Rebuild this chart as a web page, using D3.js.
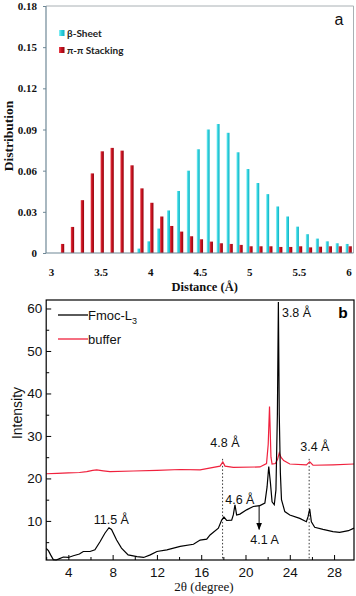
<!DOCTYPE html>
<html><head><meta charset="utf-8">
<script src="https://cdn.jsdelivr.net/npm/d3@7/dist/d3.min.js"></script>
<style>html,body{margin:0;padding:0;background:#fff;}svg{display:block;}</style>
</head><body>
<script>
// ---- Panel a data ----
const distances = [3.1,3.2,3.3,3.4,3.5,3.6,3.7,3.8,3.9,4.0,4.1,4.2,4.3,4.4,4.5,4.6,4.7,4.8,4.9,5.0,5.1,5.2,5.3,5.4,5.5,5.6,5.7,5.8,5.9,6.0];
const betaSheet = [0,0,0,0,0,0,0,0,0.0032,0.0085,0.0178,0.031,0.0452,0.060,0.0756,0.090,0.0940,0.0876,0.0734,0.0612,0.051,0.0429,0.0339,0.0266,0.0192,0.0137,0.0105,0.0085,0.0071,0.0066];
const piStacking = [0.0066,0.019,0.0385,0.058,0.0741,0.0766,0.0746,0.0639,0.0471,0.0366,0.0266,0.0197,0.0156,0.0122,0.010,0.0083,0.0071,0.0066,0.0059,0.0049,0.0049,0.0049,0.0044,0.0044,0.0049,0.0041,0.0046,0.0049,0.0049,0.0049];
const yTicksA = [0,0.03,0.06,0.09,0.12,0.15,0.18];
const xTicksA = [3,3.5,4,4.5,5,5.5,6];
const seriesA = ["β-Sheet","π-π Stacking"];

// ---- Panel b data ----
const thetaL3 = [2.0,2.2,2.4,2.64,2.9,3.1,3.55,4.0,4.45,5.0,5.35,5.96,6.4,6.86,7.3,7.67,7.9,8.36,8.8,9.4,10.2,10.8,11.4,12.0,12.9,14.1,15.3,15.9,16.5,16.8,17.55,17.85,18.05,18.3,18.75,18.9,19.05,19.2,19.5,20.1,20.7,21.3,21.75,21.95,22.1,22.25,22.4,22.6,22.75,22.88,22.97,23.05,23.15,23.25,23.55,24.0,24.9,25.5,25.65,25.8,25.95,26.25,27.0,27.9,28.5,29.3,29.8];
const intL3 = [3.5,3.0,2.0,0.9,0.8,1.0,1.5,1.4,1.8,2.2,2.8,2.8,3.2,5.1,7.1,8.4,8.0,5.5,3.6,2.0,1.6,1.4,2.0,2.8,3.2,4.0,4.5,5.5,5.7,6.7,8.3,10.2,10.9,10.1,10.2,11.4,13.8,11.4,11.6,12.6,13.4,13.6,14.2,18.0,22.8,19.0,14.5,13.8,17.3,35.0,61.5,35.0,21.3,15.0,12.2,11.4,10.6,9.8,11.0,12.8,9.8,8.5,8.0,7.5,7.3,7.7,8.3];
const thetaBuf = [2.0,3.0,4.0,5.0,5.66,6.2,6.56,7.16,7.76,9.87,12.0,14.1,15.9,17.7,17.95,18.15,18.9,21.3,21.9,22.05,22.17,22.3,22.4,22.7,22.9,23.05,23.2,23.45,24.0,25.5,25.8,26.1,27.9,29.8];
const intBuf = [21.1,21.2,21.3,21.4,21.6,21.9,22.0,21.8,21.6,21.75,21.9,22.1,22.0,22.9,23.9,22.9,22.6,22.7,23.5,28.0,36.9,25.0,23.4,23.5,24.5,26.0,25.0,24.2,23.4,23.2,23.9,23.1,23.2,23.4];
const xTicksB = [4,8,12,16,20,24,28];
const xMinorB = [2,6,10,14,18,22,26];
const yTicksB = [10,20,30,40,50,60];
const yMinorB = [5,15,25,35,45,55];
const seriesB = ["Fmoc-L","buffer"];
const peakLabels = [
  {t:"3.8 Å", x:24.61, y:58.0},
  {t:"4.8 Å", x:18.14, y:27.4},
  {t:"3.4 Å", x:26.26, y:26.5},
  {t:"4.6 Å", x:19.49, y:14.0},
  {t:"4.1 A", x:21.72, y:4.57},
  {t:"11.5 Å", x:7.88, y:9.2}
];
const dottedAt = [17.93, 25.75];

const W = 356, H = 596;
const svg = d3.select("body").append("svg").attr("width", W).attr("height", H);

// ================= Panel a =================
const xA = d3.scaleLinear().domain([3,6]).range([51,348.5]);
const yA = d3.scaleLinear().domain([0,0.18]).range([253,6]);
const leftA = 46, rightA = 353.5;
const defs = svg.append("defs");
const gc = defs.append("linearGradient").attr("id","gCyan");
gc.append("stop").attr("offset","0%").attr("stop-color","#8af0f5");
gc.append("stop").attr("offset","45%").attr("stop-color","#2fd3e0");
gc.append("stop").attr("offset","100%").attr("stop-color","#15aebf");
const gr = defs.append("linearGradient").attr("id","gRed");
gr.append("stop").attr("offset","0%").attr("stop-color","#e8404a");
gr.append("stop").attr("offset","45%").attr("stop-color","#c8101e");
gr.append("stop").attr("offset","100%").attr("stop-color","#8e0712");

const gA = svg.append("g");
// top/right border
gA.append("path").attr("d",`M${leftA},${yA(0.18)}H${rightA}V${yA(0)}`).attr("fill","none").attr("stroke","#a9b0b4").attr("stroke-width",1);

// bars
gA.selectAll("rect.cy").data(distances.map((d,i)=>({d,v:betaSheet[i]})).filter(o=>o.v>0)).join("rect")
  .attr("x",o=>xA(o.d)-3).attr("width",3).attr("y",o=>yA(o.v)).attr("height",o=>yA(0)-yA(o.v)).attr("fill","url(#gCyan)");
gA.selectAll("rect.rd").data(distances.map((d,i)=>({d,v:piStacking[i]}))).join("rect")
  .attr("x",o=>xA(o.d)).attr("width",3.3).attr("y",o=>yA(o.v)).attr("height",o=>yA(0)-yA(o.v)).attr("fill","url(#gRed)");

// axes lines
const axColA = "#6f8896";
gA.append("line").attr("x1",leftA).attr("x2",leftA).attr("y1",yA(0.18)).attr("y2",yA(0)).attr("stroke",axColA).attr("stroke-width",1.2);
gA.append("line").attr("x1",leftA).attr("x2",rightA).attr("y1",yA(0)).attr("y2",yA(0)).attr("stroke",axColA).attr("stroke-width",1.2);

const yAxA = gA.append("g").attr("transform",`translate(${leftA},0)`)
  .call(d3.axisLeft(yA).tickValues(yTicksA).tickSize(3).tickPadding(6).tickFormat(d=>d===0?"0":d3.format(".2f")(d)));
yAxA.select(".domain").remove();
yAxA.selectAll("line").attr("stroke",axColA);
yAxA.selectAll("text").attr("font-family","'Liberation Serif','Times New Roman',serif").attr("font-weight","bold").attr("font-size","11px").attr("fill","#111");

const xAxA = gA.append("g").attr("transform",`translate(0,${yA(0)})`)
  .call(d3.axisBottom(xA).tickValues(xTicksA).tickSize(0).tickPadding(15).tickFormat(d=>String(d)));
xAxA.select(".domain").remove();
xAxA.selectAll("text").attr("font-family","'Liberation Serif','Times New Roman',serif").attr("font-weight","bold").attr("font-size","11px").attr("fill","#111");

gA.append("text").attr("transform","translate(13,136) rotate(-90)").attr("text-anchor","middle")
  .attr("font-family","'Liberation Serif','Times New Roman',serif").attr("font-weight","bold").attr("font-size","13.5px").attr("fill","#111").text("Distribution");
gA.append("text").attr("x",xA(4.55)).attr("y",291).attr("text-anchor","middle")
  .attr("font-family","'Liberation Serif','Times New Roman',serif").attr("font-weight","bold").attr("font-size","12.5px").attr("fill","#111").text("Distance (Å)");

// legend a
const legA = gA.append("g");
seriesA.forEach((s,i)=>{
  const ly = 33 + i*17;
  legA.append("rect").attr("x",59).attr("y",ly-3).attr("width",5.5).attr("height",6).attr("fill",i===0?"url(#gCyan)":"url(#gRed)");
  legA.append("text").attr("x",67).attr("y",ly+3.5).attr("font-family","Lato,'Open Sans',sans-serif").attr("font-weight","bold").attr("font-size","10px").attr("fill","#222").text(s);
});
gA.append("text").attr("x",339).attr("y",25).attr("text-anchor","middle").attr("font-family","'Liberation Sans',Arial,sans-serif").attr("font-size","16px").attr("fill","#111").text("a");

// ================= Panel b =================
const xB = d3.scaleLinear().domain([2,29.8]).range([46.2,354]);
const yB = d3.scaleLinear().domain([0.8,62]).range([560,300]);
const gB = svg.append("g");
const fontB = "'Liberation Sans',Arial,sans-serif";

// dotted lines
gB.selectAll("line.dot").data(dottedAt).join("line")
  .attr("x1",d=>xB(d)).attr("x2",d=>xB(d)).attr("y1",yB(24.6)).attr("y2",yB(0.8))
  .attr("stroke","#222").attr("stroke-width",0.9).attr("stroke-dasharray","1.5,2");

const line = d3.line().x(d=>xB(d[0])).y(d=>yB(d[1]));
gB.append("path").datum(thetaBuf.map((t,i)=>[t,intBuf[i]])).attr("d",line).attr("fill","none").attr("stroke","#f0213d").attr("stroke-width",1.2);
gB.append("path").datum(thetaL3.map((t,i)=>[t,intL3[i]])).attr("d",line).attr("fill","none").attr("stroke","#000").attr("stroke-width",1.2);

// frame
gB.append("rect").attr("x",xB(2)).attr("y",yB(62)).attr("width",xB(29.8)-xB(2)).attr("height",yB(0.8)-yB(62)).attr("fill","none").attr("stroke","#000").attr("stroke-width",1.2);

// axes
const yAxB = gB.append("g").attr("transform",`translate(${xB(2)},0)`)
  .call(d3.axisLeft(yB).tickValues(yTicksB).tickSize(-5).tickPadding(4).tickFormat(d3.format("d")));
yAxB.select(".domain").remove();
yAxB.selectAll("text").attr("font-family",fontB).attr("font-size","13.5px").attr("fill","#111");
const yMinB = gB.append("g").attr("transform",`translate(${xB(2)},0)`)
  .call(d3.axisLeft(yB).tickValues(yMinorB).tickSize(-3).tickFormat(""));
yMinB.select(".domain").remove();

const xAxB = gB.append("g").attr("transform",`translate(0,${yB(0.8)})`)
  .call(d3.axisBottom(xB).tickValues(xTicksB).tickSize(-5).tickPadding(7).tickFormat(d3.format("d")));
xAxB.select(".domain").remove();
xAxB.selectAll("text").attr("font-family",fontB).attr("font-size","13.5px").attr("fill","#111");
const xMinB = gB.append("g").attr("transform",`translate(0,${yB(0.8)})`)
  .call(d3.axisBottom(xB).tickValues(xMinorB).tickSize(-3).tickFormat(""));
xMinB.select(".domain").remove();

gB.append("text").attr("transform","translate(22,413) rotate(-90)").attr("text-anchor","middle")
  .attr("font-family",fontB).attr("font-size","14px").attr("fill","#111").text("Intensity");
gB.append("text").attr("x",204).attr("y",591).attr("text-anchor","middle")
  .attr("font-family","'Liberation Serif','Times New Roman',serif").attr("font-size","13px").attr("fill","#111").text("2θ (degree)");

// legend b
const legB = gB.append("g");
seriesB.forEach((s,i)=>{
  const ly = 315 + i*24;
  legB.append("line").attr("x1",58).attr("x2",88).attr("y1",ly).attr("y2",ly).attr("stroke",i===0?"#000":"#f0213d").attr("stroke-width",1.3);
  const t = legB.append("text").attr("x",88).attr("y",ly+5).attr("font-family",fontB).attr("font-size","13px").attr("fill","#111").text(s);
  if(i===0) t.append("tspan").attr("font-size","9px").attr("dy",4).text("3");
});

// peak annotations
gB.selectAll("text.pk").data(peakLabels).join("text")
  .attr("x",d=>xB(d.x)).attr("y",d=>yB(d.y)).attr("text-anchor","middle")
  .attr("font-family",fontB).attr("font-size","12.5px").attr("fill","#111").text(d=>d.t);

// arrow
defs.append("marker").attr("id","arr").attr("viewBox","0 0 10 10").attr("refX",9).attr("refY",5)
  .attr("markerWidth",7).attr("markerHeight",7).attr("orient","auto")
  .append("path").attr("d","M0,1 L10,5 L0,9 Z").attr("fill","#000");
gB.append("line").attr("x1",xB(21.23)).attr("x2",xB(21.23)).attr("y1",yB(13.75)).attr("y2",yB(8.0))
  .attr("stroke","#000").attr("stroke-width",1).attr("marker-end","url(#arr)");

gB.append("text").attr("x",343).attr("y",318).attr("text-anchor","middle").attr("font-family",fontB).attr("font-weight","bold").attr("font-size","15.5px").attr("fill","#000").text("b");
</script>
</body></html>
